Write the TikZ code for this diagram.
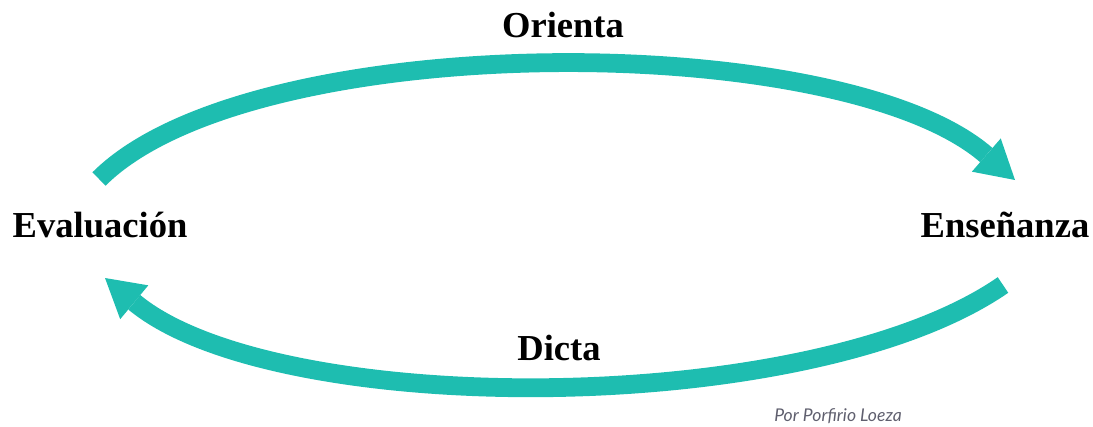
\documentclass[tikz,border=0pt]{standalone}
\usepackage{fontspec}
\setmainfont{Liberation Serif}
\newfontfamily\firmafont{Lato}
\usetikzlibrary{arrows.meta}
\definecolor{ciclo}{RGB}{30,189,176}
\definecolor{firma}{RGB}{95,95,110}
\tikzset{
  etiqueta/.style={font=\fontsize{26}{30}\selectfont\bfseries, anchor=base, inner sep=0pt},
  flecha/.style={ciclo, line width=0.47cm, -{Triangle[width=1.1cm,length=0.95cm,line width=0pt]}}
}
\begin{document}
\begin{tikzpicture}[x=0.025cm,y=-0.025cm]
\useasboundingbox (0,0) rectangle (1093,427);
\node[etiqueta] (eval) at (100,237) {Evaluación};
\node[etiqueta] (ensen) at (1005,237) {Enseñanza};
\node[etiqueta] (orienta) at (563,38) {Orienta};
\node[etiqueta] (dicta) at (559,360) {Dicta};
\node[anchor=base, inner sep=0pt, text=firma, font=\firmafont\itshape\fontsize{12.5}{14}\selectfont] (autor) at (838,421) {Por Porfirio Loeza};
% arcos del ciclo
\coordinate (orientaIni) at (99,179);
\coordinate (orientaFin) at (1015,180);
\coordinate (dictaIni) at (1003,285);
\coordinate (dictaFin) at (105,278);
\draw[flecha] (orientaIni) .. controls (250,28) and (840,28) .. (orientaFin);
\draw[flecha] (dictaIni) .. controls (809,419) and (275,419) .. (dictaFin);
\end{tikzpicture}
\end{document}
